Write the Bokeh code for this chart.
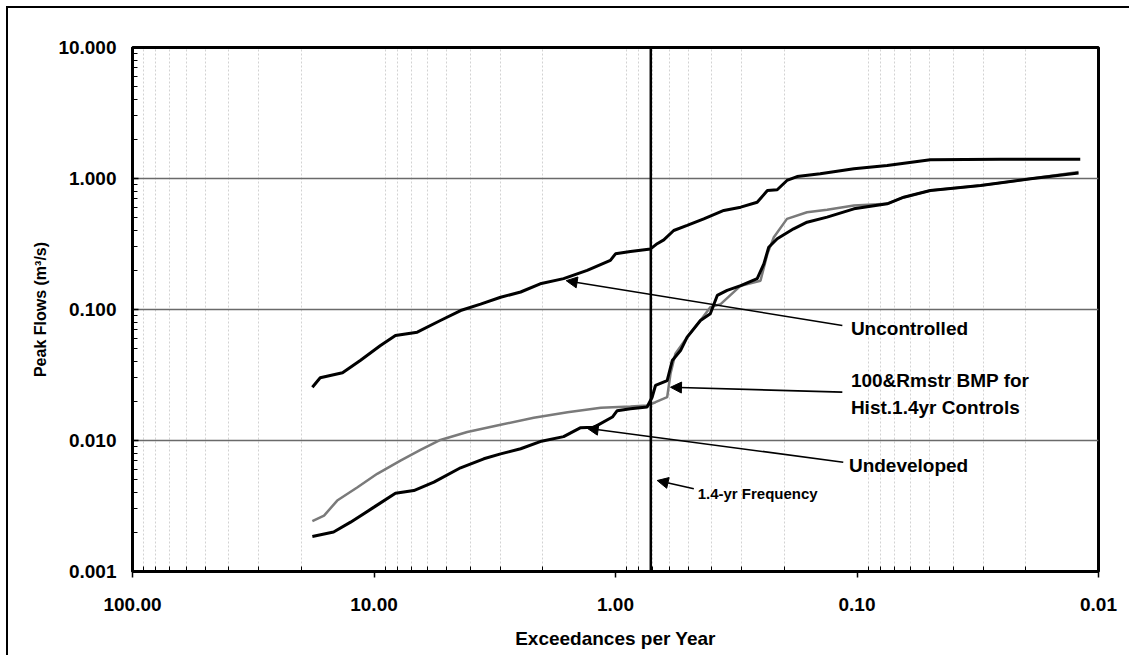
from bokeh.plotting import figure
from bokeh.models import Range1d, FixedTicker, NumeralTickFormatter, Arrow, NormalHead, Label, Span
from bokeh.embed import file_html
from bokeh.resources import INLINE

# Tick positions (decades) for the two log axes
x_major_ticks = [100, 10, 1, 0.1, 0.01]
y_major_ticks = [0.001, 0.01, 0.1, 1, 10]

# Peak-flow frequency curves: exceedances per year vs peak flow (m3/s)
uncontrolled_exc = [18.0, 16.7, 13.5, 11.4, 9.40, 8.15, 6.62, 5.31, 4.38, 3.62, 2.99, 2.47, 2.05,
                    1.64, 1.31, 1.05, 1.00, 0.867, 0.716, 0.672, 0.631, 0.574, 0.505, 0.431, 0.356,
                    0.303, 0.259, 0.235, 0.214, 0.195, 0.177, 0.142, 0.103, 0.0750, 0.0497, 0.0255, 0.0119]
uncontrolled_flow = [0.0255, 0.0301, 0.0329, 0.0408, 0.0531, 0.0633, 0.0671, 0.0824, 0.0982, 0.110,
                     0.124, 0.136, 0.157, 0.172, 0.199, 0.237, 0.266, 0.277, 0.290, 0.318, 0.340,
                     0.401, 0.438, 0.492, 0.570, 0.604, 0.659, 0.809, 0.820, 0.966, 1.035, 1.087,
                     1.186, 1.256, 1.39, 1.40, 1.40]

undeveloped_exc = [18.0, 14.7, 12.5, 10.0, 8.15, 6.84, 5.65, 4.38, 3.51, 2.99, 2.47, 2.05, 1.64,
                   1.40, 1.23, 1.03, 0.984, 0.867, 0.740, 0.705, 0.683, 0.611, 0.582, 0.538, 0.505,
                   0.445, 0.405, 0.379, 0.345, 0.303, 0.259, 0.243, 0.232, 0.214, 0.183, 0.161,
                   0.133, 0.103, 0.0750, 0.0640, 0.0497, 0.0308, 0.0191, 0.0121]
undeveloped_flow = [0.00185, 0.00200, 0.00238, 0.00310, 0.00396, 0.00415, 0.00481, 0.00619, 0.00725,
                    0.00791, 0.00865, 0.00982, 0.0107, 0.0125, 0.0126, 0.0151, 0.0169, 0.0175,
                    0.0180, 0.0214, 0.0263, 0.0287, 0.0408, 0.0486, 0.0615, 0.0824, 0.0927, 0.128,
                    0.140, 0.152, 0.172, 0.223, 0.299, 0.347, 0.413, 0.464, 0.507, 0.587, 0.641,
                    0.720, 0.809, 0.885, 0.995, 1.10]

bmp_exc = [18.0, 16.1, 14.2, 11.7, 9.70, 7.77, 6.42, 5.31, 4.11, 2.99, 2.18, 1.58, 1.15, 0.867,
           0.740, 0.683, 0.611, 0.592, 0.565, 0.505, 0.445, 0.405, 0.367, 0.303, 0.251, 0.235,
           0.221, 0.195, 0.161, 0.133, 0.103, 0.0750, 0.0640, 0.0497, 0.0308, 0.0191, 0.0121]
bmp_flow = [0.00242, 0.00267, 0.00348, 0.00440, 0.00557, 0.00703, 0.00849, 0.0101, 0.0116, 0.0132,
            0.0149, 0.0164, 0.0178, 0.0182, 0.0185, 0.0196, 0.0214, 0.0323, 0.0459, 0.0615,
            0.0824, 0.104, 0.110, 0.152, 0.166, 0.266, 0.356, 0.492, 0.553, 0.577, 0.622,
            0.641, 0.720, 0.809, 0.885, 0.995, 1.12]

# Design storm return period shown by the vertical marker
return_period_yr = 1.4

FONT = "Liberation Sans"

p = figure(width=1123, height=649, x_axis_type="log", y_axis_type="log",
           x_range=Range1d(100, 0.01), y_range=Range1d(0.001, 10),
           output_backend="svg", toolbar_location=None,
           min_border_left=124, min_border_right=33, min_border_top=39, min_border_bottom=86)
p.styles = {"margin-left": "6px", "margin-top": "6px",
            "border-left": "2px solid #000", "border-top": "2px solid #000"}
p.background_fill_color = "white"
p.border_fill_color = "white"
p.outline_line_color = "black"
p.outline_line_width = 3

x_minor = [m * 10.0 ** k for k in range(-2, 2) for m in range(2, 10)]
y_minor = [m * 10.0 ** k for k in range(-3, 1) for m in range(2, 10)]
p.xaxis.ticker = FixedTicker(ticks=x_major_ticks, minor_ticks=x_minor)
p.yaxis.ticker = FixedTicker(ticks=y_major_ticks, minor_ticks=y_minor)
p.xaxis.formatter = NumeralTickFormatter(format="0.00")
p.yaxis.formatter = NumeralTickFormatter(format="0.000")

for ax in (p.xaxis, p.yaxis):
    ax.axis_line_width = 3
    ax.axis_line_color = "black"
    ax.major_tick_line_color = "black"
    ax.minor_tick_line_color = "black"
    ax.major_tick_line_width = 1.5
    ax.minor_tick_line_width = 1
    ax.minor_tick_in = 5
    ax.minor_tick_out = 0
    ax.major_label_text_font = FONT
    ax.major_label_text_font_style = "bold"
    ax.major_label_text_font_size = "19px"
    ax.major_label_text_color = "black"
    ax.axis_label_text_font = FONT
    ax.axis_label_text_font_style = "bold"
    ax.axis_label_text_color = "black"

p.xaxis.major_tick_out = 6
p.xaxis.major_tick_in = 0
p.xaxis.major_label_standoff = 20
p.xaxis.axis_label = "Exceedances per Year"
p.xaxis.axis_label_text_font_size = "19px"
p.xaxis.axis_label_standoff = 14

p.yaxis.major_tick_out = 0
p.yaxis.major_tick_in = 6
p.yaxis.major_label_standoff = 16
p.yaxis.axis_label = "Peak Flows (m³/s)"
p.yaxis.axis_label_text_font_size = "16px"
p.yaxis.axis_label_standoff = 6

p.xgrid.grid_line_color = None
p.xgrid.minor_grid_line_color = "#d2d2d2"
p.xgrid.minor_grid_line_dash = "2 2"
p.xgrid.minor_grid_line_width = 1
p.ygrid.grid_line_color = "#6a6a6a"
p.ygrid.grid_line_width = 1.5

p.add_layout(Span(location=1.0 / return_period_yr, dimension="height",
                  line_color="black", line_width=2.5))

p.line(bmp_exc, bmp_flow, line_color="#7a7a7a", line_width=2.5)
p.line(undeveloped_exc, undeveloped_flow, line_color="black", line_width=3)
p.line(uncontrolled_exc, uncontrolled_flow, line_color="black", line_width=3)


def pointer(xs, ys, xe, ye):
    p.add_layout(Arrow(end=NormalHead(size=11, fill_color="black", line_color="black", line_width=1),
                       x_start=xs, y_start=ys, x_end=xe, y_end=ye,
                       line_color="black", line_width=1.6))


def note(x, y, text, size="19px"):
    p.add_layout(Label(x=x, y=y, text=text, text_font=FONT, text_font_style="bold",
                       text_font_size=size, text_align="left", text_baseline="middle",
                       text_color="black"))


pointer(0.115, 0.0755, 1.60, 0.166)
note(0.106, 0.0716, "Uncontrolled")

pointer(0.115, 0.0234, 0.592, 0.0255)
note(0.106, 0.0287, "100&Rmstr BMP for")
note(0.106, 0.0180, "Hist.1.4yr Controls")

pointer(0.114, 0.00683, 1.31, 0.0124)
note(0.108, 0.00644, "Undeveloped")

pointer(0.474, 0.00428, 0.672, 0.00495)
note(0.457, 0.00394, "1.4-yr Frequency", size="15px")

open("out.html", "w").write(file_html(p, INLINE))
